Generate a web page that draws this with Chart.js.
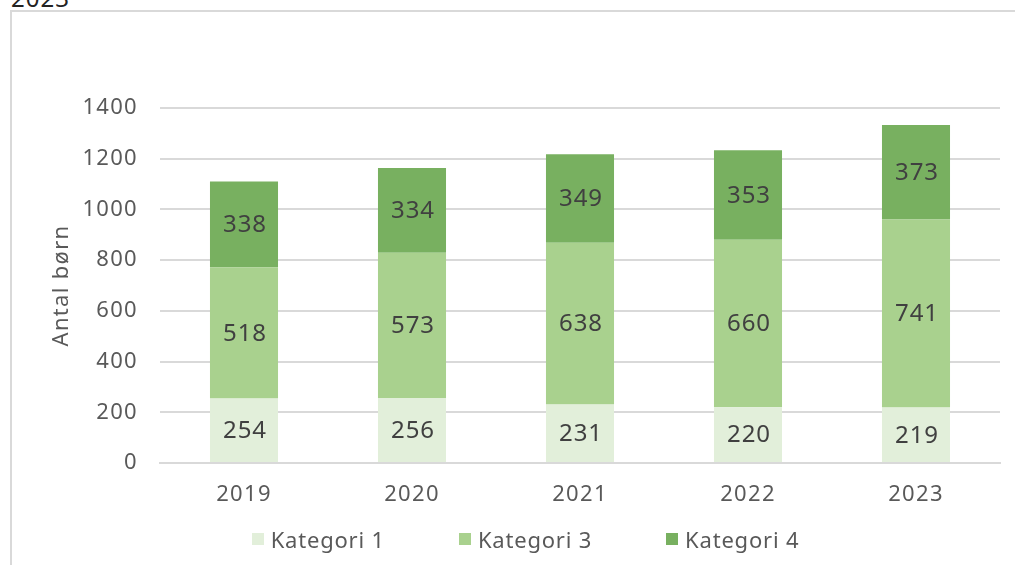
<!DOCTYPE html>
<html>
<head>
<meta charset="utf-8">
<script src="https://cdn.jsdelivr.net/npm/chart.js@4"></script>
<style>
  body { margin: 0; background: #fff; overflow: hidden; }
  #frame { position: absolute; left: 10px; top: 10px; width: 1100px; height: 700px;
           border-top: 2px solid #D9D9D9; border-left: 2px solid #D9D9D9; }
  #cut { position: absolute; left: 11px; top: -19px; font: 24px "Noto Sans", sans-serif; color: #222; letter-spacing: 1px; }
  #wrap { position: absolute; left: 0; top: 0; width: 1015px; height: 565px; }
  #legend { position: absolute; left: 0; top: 524px; width: 1015px; display: flex; justify-content: center;
            padding-left: 36px; box-sizing: border-box;
            font: 22px "Noto Sans", sans-serif; color: #595959; letter-spacing: 0.8px; }
  #legend span.item { display: flex; align-items: center; margin: 0 37px; }
  #legend span.box { width: 12px; height: 12px; margin-right: 7px; }
</style>
</head>
<body>
<div id="cut">2023</div>
<div id="frame"></div>
<div id="wrap"><canvas id="myChart"></canvas></div>
<div id="legend"></div>
<script>
const years = ['2019', '2020', '2021', '2022', '2023']
const kategori1 = [254, 256, 231, 220, 219]
const kategori3 = [518, 573, 638, 660, 741]
const kategori4 = [338, 334, 349, 353, 373]
const yTicks = [0, 200, 400, 600, 800, 1000, 1200, 1400]

const fontName = '"Noto Sans", sans-serif'

// wider lettering, closer to the original font
const spacing = {
    id: 'spacing',
    beforeDraw(chart) { chart.ctx.letterSpacing = '1.3px' }
}

// values written in the middle of each bar segment
const barLabels = {
    id: 'barLabels',
    afterDatasetsDraw(chart) {
        const ctx = chart.ctx
        ctx.save()
        ctx.font = '24px ' + fontName
        ctx.letterSpacing = '1px'
        ctx.fillStyle = '#404040'
        ctx.textAlign = 'center'
        ctx.textBaseline = 'middle'
        chart.data.datasets.forEach((ds, i) => {
            chart.getDatasetMeta(i).data.forEach((bar, j) => {
                ctx.fillText(ds.data[j], bar.x + 1, (bar.y + bar.base) / 2 + 1)
            })
        })
        ctx.restore()
    }
}

let myChart = document.getElementById('myChart').getContext('2d')

let popChart = new Chart(myChart, {
    type: 'bar',
    data: {
        labels: years,
        datasets: [{
            label: 'Kategori 1',
            data: kategori1,
            backgroundColor: '#E2EFDA'
        }, {
            label: 'Kategori 3',
            data: kategori3,
            backgroundColor: '#A9D18E'
        }, {
            label: 'Kategori 4',
            data: kategori4,
            backgroundColor: '#78B060'
        }]
    },
    options: {
        responsive: true,
        maintainAspectRatio: false,
        animation: false,
        layout: { padding: { top: 108, right: 15, bottom: 42, left: 0 } },
        datasets: { bar: { barPercentage: 0.405, categoryPercentage: 1 } },
        scales: {
            x: {
                stacked: true,
                grid: { display: false },
                border: { color: '#D9D9D9', width: 2 },
                ticks: { color: '#595959', font: { family: fontName, size: 22 }, padding: 11 },
                afterFit(scale) { scale.height = 60 }
            },
            y: {
                stacked: true,
                min: 0,
                max: 1400,
                afterBuildTicks(scale) { scale.ticks = yTicks.map(v => ({ value: v })) },
                grid: { color: '#D9D9D9', lineWidth: 2, drawTicks: false },
                border: { display: false },
                ticks: {
                    color: '#595959',
                    font: { family: fontName, size: 22 },
                    padding: 22,
                    callback: v => String(v)
                },
                title: {
                    display: true,
                    text: 'Antal børn',
                    color: '#595959',
                    font: { family: fontName, size: 22 },
                    padding: { top: 49, bottom: 0 }
                },
                afterFit(scale) { scale.width = 160 }
            }
        },
        plugins: {
            legend: { display: false },
            tooltip: { enabled: false }
        }
    },
    plugins: [spacing, barLabels]
})

// legend built from the datasets
const legend = document.getElementById('legend')
popChart.data.datasets.forEach(ds => {
    const item = document.createElement('span')
    item.className = 'item'
    const box = document.createElement('span')
    box.className = 'box'
    box.style.background = ds.backgroundColor
    item.appendChild(box)
    item.appendChild(document.createTextNode(ds.label))
    legend.appendChild(item)
})
</script>
</body>
</html>
